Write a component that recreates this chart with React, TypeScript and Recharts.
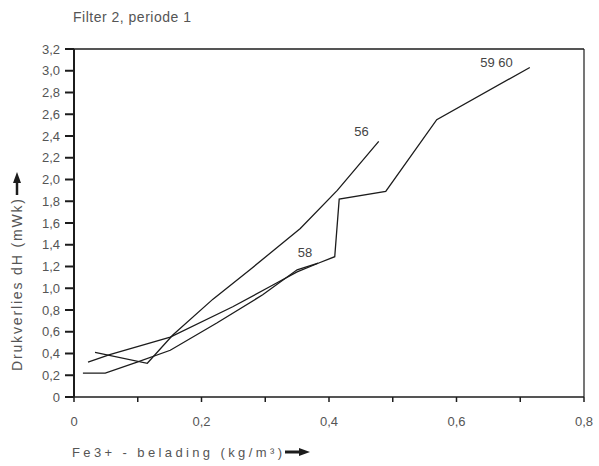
import { LineChart, Line, XAxis, YAxis, ReferenceLine, Label } from 'recharts';

// Fe3+ belading (x) tegen drukverlies (y), per meetserie
const serie56X = [0.033, 0.115, 0.155, 0.218, 0.276, 0.355, 0.413, 0.478];
const serie56Y = [0.41, 0.31, 0.57, 0.9, 1.17, 1.55, 1.9, 2.35];

const serie58X = [0.022, 0.056, 0.151, 0.249, 0.312, 0.35, 0.383];
const serie58Y = [0.32, 0.39, 0.55, 0.83, 1.03, 1.15, 1.23];

const serie5960X = [0.014, 0.049, 0.099, 0.151, 0.224, 0.296, 0.35, 0.383, 0.409, 0.416, 0.489, 0.569, 0.715];
const serie5960Y = [0.22, 0.22, 0.32, 0.43, 0.68, 0.94, 1.17, 1.23, 1.29, 1.82, 1.89, 2.55, 3.03];

const xTicks = [0, 0.1, 0.2, 0.3, 0.4, 0.5, 0.6, 0.7, 0.8];
const yTicks = [0, 0.2, 0.4, 0.6, 0.8, 1.0, 1.2, 1.4, 1.6, 1.8, 2.0, 2.2, 2.4, 2.6, 2.8, 3.0, 3.2];

const toPoints = (xs: number[], ys: number[]) => xs.map((x, i) => ({ x, y: ys[i] }));

const series = [
  { name: '56', data: toPoints(serie56X, serie56Y), dx: -10, dy: -5 },
  { name: '58', data: toPoints(serie58X, serie58Y), dx: -6, dy: -6 },
  { name: '59 60', data: toPoints(serie5960X, serie5960Y), dx: -17, dy: 0 },
];

const FONT = '"Liberation Sans", Arial, sans-serif';
const INK = '#1c1c1c';
const TEXT = '#555';

const fmtY = (v: number) => (v === 0 ? '0' : v.toFixed(1).replace('.', ','));
const fmtX = (v: number) => {
  if (Math.round(v * 10) % 2 !== 0) return '';
  return v === 0 ? '0' : v.toFixed(1).replace('.', ',');
};

const YTitle = ({ viewBox }: any) => {
  const x = 17;
  const cy = viewBox.y + 236;
  return (
    <g>
      <text
        x={x}
        y={cy}
        transform={`rotate(-90, ${x}, ${cy})`}
        textAnchor="middle"
        dominantBaseline="central"
        fontFamily={FONT}
        fontSize={14}
        fill={TEXT}
        textLength={172}
        lengthAdjust="spacing"
      >
        Drukverlies dH (mWk)
      </text>
      <line x1={x} x2={x} y1={cy - 90} y2={cy - 104} stroke={INK} strokeWidth={2.5} />
      <polygon points={`${x - 4},${cy - 102} ${x + 4},${cy - 102} ${x},${cy - 113}`} fill={INK} />
    </g>
  );
};

const XTitle = ({ viewBox }: any) => {
  const y = viewBox.y + 55;
  return (
    <g>
      <text
        x={72}
        y={y}
        dominantBaseline="central"
        fontFamily={FONT}
        fontSize={13}
        fill={TEXT}
        textLength={210}
        lengthAdjust="spacing"
      >
        Fe3+ - belading (kg/m³)
      </text>
      <line x1={285} x2={300} y1={y} y2={y} stroke={INK} strokeWidth={3} />
      <polygon points={`${299},${y - 4} ${299},${y + 4} ${310},${y}`} fill={INK} />
    </g>
  );
};

const endLabel = (name: string, len: number, dx: number, dy: number) => (props: any) => {
  const { x, y, index } = props;
  if (index !== len - 1) return null;
  return (
    <text
      key={name}
      x={x + dx}
      y={y + dy}
      textAnchor="end"
      fontFamily={FONT}
      fontSize={13}
      fill="#444"
    >
      {name}
    </text>
  );
};

export default function App() {
  return (
    <div style={{ position: 'absolute', left: 0, top: 0, width: 599, height: 466, background: '#fff' }}>
      <div
        style={{
          position: 'absolute',
          left: 73,
          top: 9,
          fontFamily: FONT,
          fontSize: 14,
          color: TEXT,
          letterSpacing: 0.5,
        }}
      >
        Filter 2, periode 1
      </div>
      <LineChart width={599} height={466} margin={{ top: 49, right: 15, left: 0, bottom: 0 }}>
        <XAxis
          type="number"
          dataKey="x"
          domain={[0, 0.8]}
          ticks={xTicks}
          tickFormatter={fmtX}
          interval={0}
          height={69}
          tickSize={5}
          tickMargin={15}
          stroke={INK}
          strokeWidth={1.5}
          tick={{ fill: TEXT, fontSize: 13, fontFamily: FONT }}
          allowDataOverflow
        >
          <Label content={XTitle} />
        </XAxis>
        <YAxis
          type="number"
          dataKey="y"
          domain={[0, 3.2]}
          ticks={yTicks}
          tickFormatter={fmtY}
          interval={0}
          width={74}
          tickSize={9}
          tickMargin={5}
          stroke={INK}
          strokeWidth={2}
          tick={{ fill: TEXT, fontSize: 13, fontFamily: FONT }}
          allowDataOverflow
        >
          <Label content={YTitle} />
        </YAxis>
        <ReferenceLine y={3.2} stroke={INK} strokeWidth={1.5} />
        <ReferenceLine x={0.8} stroke={INK} strokeWidth={1.2} />
        {series.map((s) => (
          <Line
            key={s.name}
            data={s.data}
            dataKey="y"
            type="linear"
            stroke={INK}
            strokeWidth={1.3}
            dot={false}
            isAnimationActive={false}
            label={endLabel(s.name, s.data.length, s.dx, s.dy)}
          />
        ))}
      </LineChart>
    </div>
  );
}
